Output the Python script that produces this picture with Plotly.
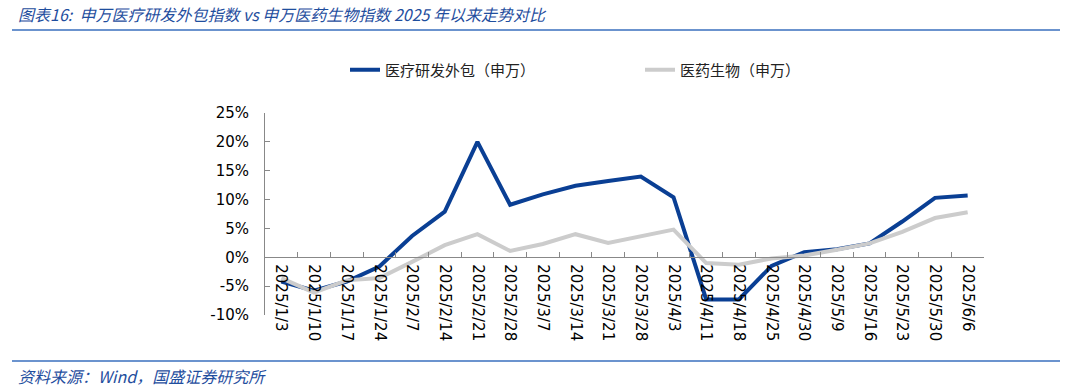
import plotly.graph_objects as go

dates = ["2025/1/3", "2025/1/10", "2025/1/17", "2025/1/24", "2025/2/7", "2025/2/14",
         "2025/2/21", "2025/2/28", "2025/3/7", "2025/3/14", "2025/3/21", "2025/3/28",
         "2025/4/3", "2025/4/11", "2025/4/18", "2025/4/25", "2025/4/30", "2025/5/9",
         "2025/5/16", "2025/5/23", "2025/5/30", "2025/6/6"]
cro = [-4.2, -5.8, -4.2, -1.6, 3.7, 7.9, 20.0, 9.1, 10.9, 12.4, 13.2, 14.0,
       10.4, -7.3, -7.3, -1.5, 0.9, 1.4, 2.4, 6.2, 10.3, 10.7]
pharma = [-3.6, -6.1, -4.0, -3.6, -0.8, 2.1, 4.0, 1.1, 2.3, 4.0, 2.5, 3.6,
          4.8, -1.0, -1.3, -0.2, 0.3, 1.3, 2.4, 4.4, 6.8, 7.8]
y_ticks = [-10, -5, 0, 5, 10, 15, 20, 25]
y_labels = [f"{v}%" for v in y_ticks]

name_cro = "医疗研发外包（申万）"
name_ph = "医药生物（申万）"
title = "图表16:  申万医疗研发外包指数 vs 申万医药生物指数 2025 年以来走势对比"
source = "资料来源：Wind，国盛证券研究所"

BLUE = "#0A3F94"
GRAY = "#CCCCCC"
TXT_BLUE = "#1F4E9E"

L, R, T, B = 265, 81, 113, 73
W, H = 1065, 388
pw, ph = W - L - R, H - T - B


def px(x):
    return (x - L) / pw


def py(y):
    return (H - B - y) / ph


fig = go.Figure()
fig.add_trace(go.Scatter(x=dates, y=cro, mode="lines", name=name_cro,
                         line=dict(color=BLUE, width=4)))
fig.add_trace(go.Scatter(x=dates, y=pharma, mode="lines", name=name_ph,
                         line=dict(color=GRAY, width=4)))

fig.update_layout(
    width=W, height=H,
    margin=dict(l=L, r=R, t=T, b=B, pad=0),
    paper_bgcolor="white", plot_bgcolor="white",
    font=dict(family="DejaVu Sans, Verdana, sans-serif", size=15, color="#000000"),
    showlegend=True,
    legend=dict(orientation="h", x=px(345), y=py(70), xanchor="left", yanchor="middle",
                entrywidth=250, entrywidthmode="pixels",
                font=dict(family="Noto Sans CJK SC", size=15, color="#222222"),
                bgcolor="rgba(0,0,0,0)"),
    xaxis=dict(type="category", anchor="free", position=10 / 35,
               showline=True, linecolor="#888888", linewidth=1,
               ticks="inside", tickson="boundaries", ticklen=5, tickcolor="#888888",
               tickangle=90, showgrid=False, zeroline=False,
               ticklabelstandoff=3,
               tickfont=dict(size=15, color="#000000"),
               range=[-0.5, len(dates) - 0.5]),
    yaxis=dict(range=[-10, 25], tickvals=y_ticks, ticktext=y_labels,
               showline=True, linecolor="#888888", linewidth=1,
               ticks="inside", ticklen=5, tickcolor="#888888",
               showgrid=False, zeroline=False, ticklabelstandoff=12,
               tickfont=dict(size=15, color="#000000")),
)

fig.add_annotation(text=title, xref="paper", yref="paper", x=px(16), y=py(14),
                   xanchor="left", yanchor="middle", showarrow=False,
                   font=dict(family="Noto Sans CJK SC", size=16, color=TXT_BLUE, style="italic"))
fig.add_annotation(text=source, xref="paper", yref="paper", x=px(16), y=py(376),
                   xanchor="left", yanchor="middle", showarrow=False,
                   font=dict(family="Noto Sans CJK SC", size=16, color=TXT_BLUE, style="italic"))
fig.add_shape(type="line", xref="paper", yref="paper", x0=px(12), x1=px(1060),
              y0=py(30), y1=py(30), line=dict(color="#3A6FBE", width=1.5))
fig.add_shape(type="line", xref="paper", yref="paper", x0=px(12), x1=px(1060),
              y0=py(361), y1=py(361), line=dict(color="#3A6FBE", width=1.5))

fig.write_html("out.html")
